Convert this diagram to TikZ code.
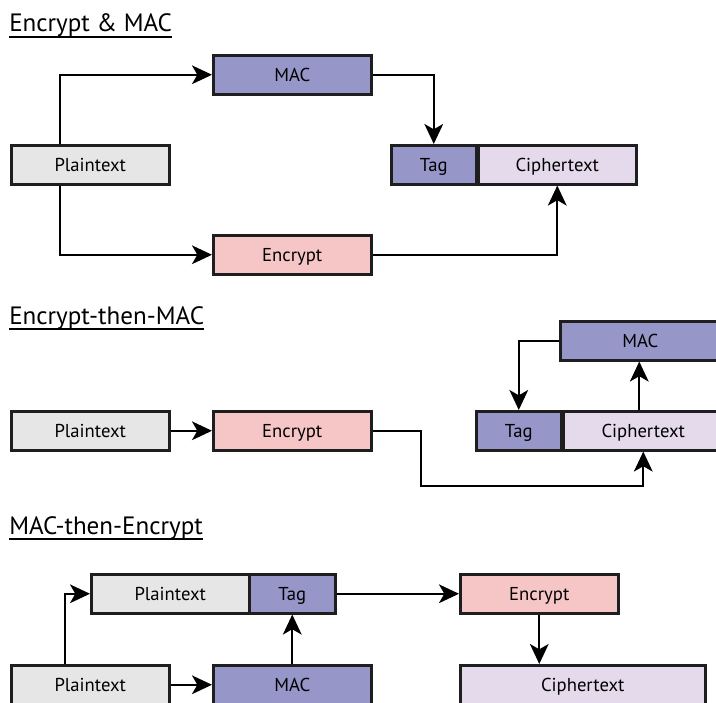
\documentclass[tikz,border=0pt]{standalone}
\usepackage{fontspec}
\setmainfont{PT Sans}
\usetikzlibrary{arrows.meta}

\definecolor{plainfill}{RGB}{230,230,230}
\definecolor{macfill}{RGB}{150,150,200}
\definecolor{encfill}{RGB}{246,198,199}
\definecolor{cipherfill}{RGB}{228,218,236}
\definecolor{edge}{RGB}{30,30,30}

\tikzset{
  blk/.style={draw=edge, line width=1.9pt, rectangle, inner sep=0pt,
    minimum height=29.25pt, minimum width=118.5pt, anchor=north west,
    text height=9.8pt, text depth=0.3pt,
    font=\fontsize{14}{16}\selectfont},
  plainblk/.style={blk, fill=plainfill},
  macblk/.style={blk, fill=macfill},
  encblk/.style={blk, fill=encfill},
  cipherblk/.style={blk, fill=cipherfill},
  flow/.style={draw=black, line width=1.7pt,
    -{Stealth[length=15pt, width=14pt, inset=4pt]}},
  heading/.style={anchor=base west, inner sep=0pt,
    font=\fontsize{18.8}{22}\selectfont},
}

\begin{document}
\begin{tikzpicture}[x=0.75pt, y=-0.75pt]
\useasboundingbox (0,0) rectangle (716,702);
\clip (0,0) rectangle (716,702);

% ---------- Encrypt & MAC ----------
\node[heading] (t1) at (9,32) {Encrypt \& MAC};
\draw[line width=1.1pt] ([yshift=-3.6pt]t1.base west) -- ([yshift=-3.6pt]t1.base east);

\node[plainblk] (p1) at (10,144) {Plaintext};
\node[macblk] (m1) at (212,54) {MAC};
\node[encblk] (e1) at (212,234) {Encrypt};
\node[macblk, minimum width=63.75pt] (g1) at (390,144) {Tag};
\node[cipherblk] (c1) at (477,144) {Ciphertext};

\draw[flow] ([xshift=-22.5pt]p1.north) |- (m1.west);
\draw[flow] ([xshift=-22.5pt]p1.south) |- (e1.west);
\draw[flow] (m1.east) -| (g1.north);
\draw[flow] (e1.east) -| (c1.south);

% ---------- Encrypt-then-MAC ----------
\node[heading] (t2) at (9,324) {Encrypt-then-MAC};
\draw[line width=1.1pt] ([yshift=-3.6pt]t2.base west) -- ([yshift=-3.6pt]t2.base east);

\node[plainblk] (p2) at (10,410) {Plaintext};
\node[encblk] (e2) at (212,410) {Encrypt};
\node[macblk, minimum width=63.75pt] (g2) at (475,410) {Tag};
\node[cipherblk, minimum width=120pt] (c2) at (562,410) {Ciphertext};
\node[macblk, minimum width=120pt] (m2) at (559,320) {MAC};
\coordinate (k2) at (421,486);

\draw[flow] (p2.east) -- (e2.west);
\draw[flow] (e2.east) -| (k2) -| (c2.south);
\draw[flow] ([xshift=-3pt]c2.north) -- ([xshift=-3pt]c2.north |- m2.south);
\draw[flow] (m2.west) -| (g2.north);

% ---------- MAC-then-Encrypt ----------
\node[heading] (t3) at (9,534) {MAC-then-Encrypt};
\draw[line width=1.1pt] ([yshift=-3.6pt]t3.base west) -- ([yshift=-3.6pt]t3.base east);

\node[plainblk] (p3) at (90,573) {Plaintext};
\node[macblk, minimum width=64.5pt] (g3) at (248,573) {Tag};
\node[encblk] (e3) at (459,573) {Encrypt};
\node[plainblk] (p4) at (10,664) {Plaintext};
\node[macblk] (m3) at (212,664) {MAC};
\node[cipherblk, minimum width=183.75pt] (c3) at (459,664) {Ciphertext};

\draw[flow] ([xshift=-18.75pt]p4.north) |- (p3.west);
\draw[flow] (p4.east) -- (m3.west);
\draw[flow] (m3.north) -- (m3.north |- g3.south);
\draw[flow] (g3.east) -- (e3.west);
\draw[flow] (e3.south) -- (e3.south |- c3.north);
\end{tikzpicture}
\end{document}
